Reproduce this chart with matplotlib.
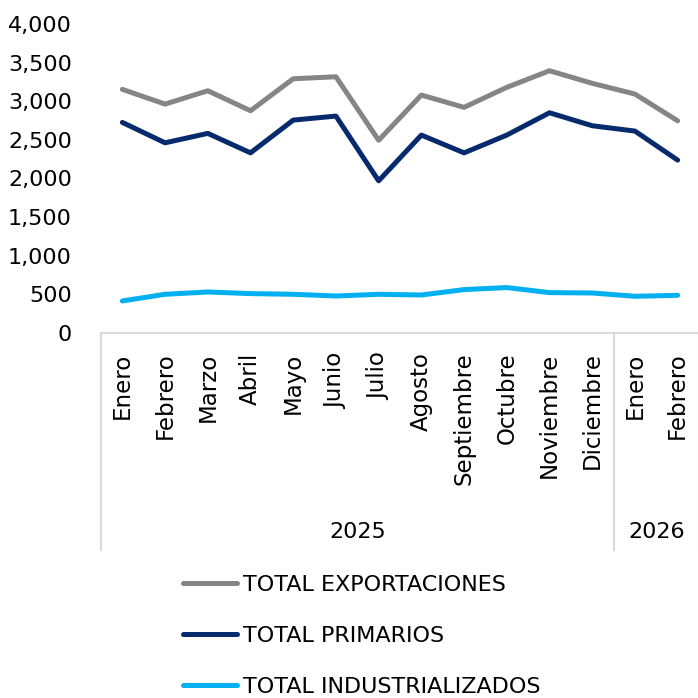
import numpy as np
import matplotlib
matplotlib.use("Agg")
from matplotlib import pyplot as plt
from matplotlib.transforms import blended_transform_factory

meses = ['Enero', 'Febrero', 'Marzo', 'Abril', 'Mayo', 'Junio', 'Julio', 'Agosto',
         'Septiembre', 'Octubre', 'Noviembre', 'Diciembre', 'Enero', 'Febrero']
anios = ['2025', '2026']
meses_por_anio = [12, 2]

total_exportaciones = [3154, 2963, 3136, 2877, 3291, 3317, 2495, 3080, 2921, 3180, 3395, 3232, 3093, 2747]
total_primarios = [2726, 2462, 2584, 2332, 2756, 2808, 1970, 2562, 2332, 2562, 2851, 2683, 2614, 2238]
total_industrializados = [415, 501, 531, 510, 501, 479, 501, 492, 562, 588, 523, 518, 475, 488]

series = [
    ('TOTAL EXPORTACIONES', total_exportaciones, '#858585'),
    ('TOTAL PRIMARIOS', total_primarios, '#062a6b'),
    ('TOTAL INDUSTRIALIZADOS', total_industrializados, '#00b0f0'),
]

W = 698
fig = plt.figure(figsize=(6.98, 6.98), dpi=100)
ax = fig.add_axes([101 / W, 365 / W, 598 / W, 309 / W])

x = np.arange(len(meses))
for nombre, valores, color in series:
    ax.plot(x, valores, color=color, lw=3.6, solid_capstyle='round', label=nombre)

ax.set_xlim(-0.5, len(meses) - 0.5)
ax.set_ylim(0, 4000)
ax.set_yticks(np.arange(0, 4001, 500))
ax.set_yticklabels(['{:,}'.format(v) for v in range(0, 4001, 500)], fontsize=16)
ax.set_xticks(x)
ax.set_xticklabels(meses, rotation=90, fontsize=16.5)
ax.tick_params(axis='y', length=0, pad=21)
ax.tick_params(axis='x', length=0, pad=14)

for s in ['top', 'right', 'left']:
    ax.spines[s].set_visible(False)
ax.spines['bottom'].set_color('#d9d9d9')
ax.spines['bottom'].set_linewidth(1.5)

# separadores de años y etiquetas
trans = blended_transform_factory(ax.transData, ax.transAxes)
y_fondo = -(550 - 333) / 309
inicio = -0.5
limites = [inicio]
for n in meses_por_anio:
    limites.append(limites[-1] + n)
for b in limites:
    ax.plot([b, b], [0, y_fondo], color='#d9d9d9', lw=1.5, transform=trans, clip_on=False)
for i, anio in enumerate(anios):
    centro = (limites[i] + limites[i + 1]) / 2
    ax.text(centro, -(532 - 333) / 309, anio, transform=trans, ha='center', va='center', fontsize=16)

fig.legend(loc='upper left', bbox_to_anchor=(183 / W, (698 - 575) / W), frameon=False,
           fontsize=16, handlelength=2.43, handletextpad=0.27, labelspacing=1.4,
           borderpad=0, borderaxespad=0)

fig.savefig('out.png', dpi=100)
